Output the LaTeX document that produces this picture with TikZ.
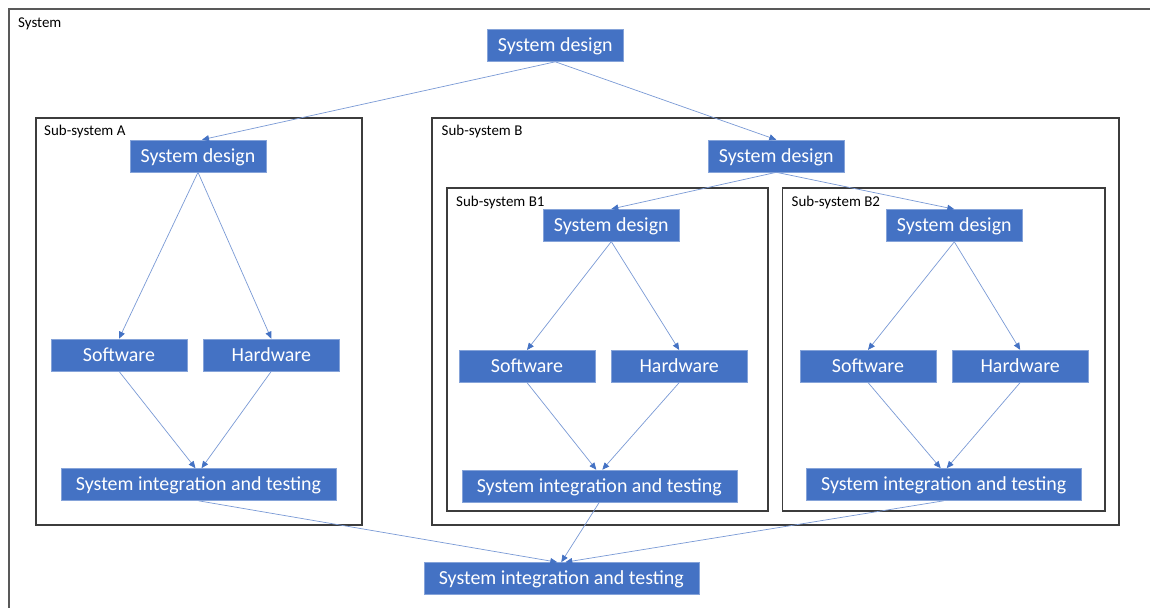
\documentclass[tikz,border=0pt]{standalone}
\usepackage{fontspec}
\setmainfont{Carlito}
\usetikzlibrary{arrows.meta}
\definecolor{boxblue}{HTML}{4472C4}
\definecolor{edgeblue}{HTML}{7A9AD6}
\definecolor{framegray}{HTML}{3C3C3C}
\tikzset{
  stage/.style={fill=boxblue, draw=boxblue!65, line width=0.6bp, text=white,
    font=\fontsize{20}{24}\selectfont, inner sep=0pt,
    minimum width=136bp, minimum height=32bp, text height=12.9bp, text depth=0pt},
  widestage/.style={stage, minimum width=275bp},
  frame/.style={draw=framegray, line width=1.1bp},
  framelabel/.style={anchor=base west, inner sep=0pt, font=\fontsize{15}{18}\selectfont},
  flow/.style={draw=edgeblue, line width=0.7bp,
    -{Triangle[length=7bp,width=6bp,fill=boxblue,color=boxblue]}}
}
\begin{document}
\begin{tikzpicture}[x=1bp,y=-1bp]
\useasboundingbox (0,0) rectangle (1150,608);
\clip (0,0) rectangle (1150,608);
\fill[white] (0,0) rectangle (1150,608);

% system frame, running past the right and bottom edges
\draw[draw=framegray!85, line width=1.3bp] (9,9) rectangle (1170,630);
\node[framelabel] (lblsys) at (18,27.5) {System};

% sub-system frames
\draw[frame] (36,118) rectangle (362,525);
\node[framelabel] (lbla) at (44,136) {Sub-system A};
\draw[frame, line width=1.3bp] (432,118) rectangle (1119,525);
\node[framelabel] (lblb) at (441.5,136) {Sub-system B};
\draw[frame] (447,188) rectangle (768,511);
\node[framelabel] (lblbone) at (456,206.5) {Sub-system B1};
\draw[frame] (782.5,188) rectangle (1105,511);
\node[framelabel] (lblbtwo) at (791.5,206.5) {Sub-system B2};

% stages
\node[stage] (topd) at (555.3,45.5) {System design};

\node[stage] (ad) at (198,156) {System design};
\node[stage] (asw) at (119,355) {Software};
\node[stage] (ahw) at (271.3,355) {Hardware};
\node[widestage] (asit) at (198.5,484.5) {System integration and testing};

\node[stage] (bd) at (776.3,156) {System design};

\node[stage] (bod) at (611.3,225.3) {System design};
\node[stage] (bosw) at (527,366.3) {Software};
\node[stage] (bohw) at (679.2,366.3) {Hardware};
\node[widestage] (bosit) at (599.3,486) {System integration and testing};

\node[stage] (btd) at (954.3,225.5) {System design};
\node[stage] (btsw) at (868,366.2) {Software};
\node[stage] (bthw) at (1020.2,366.2) {Hardware};
\node[widestage] (btsit) at (943.7,484.5) {System integration and testing};

\node[widestage] (sit) at (561.3,578.5) {System integration and testing};

% design breakdown
\draw[flow] (topd.south) -- ([xshift=4bp]ad.north);
\draw[flow] (topd.south) -- (bd.north);
\draw[flow] (ad.south) -- (asw.north);
\draw[flow] (ad.south) -- (ahw.north);
\draw[flow] (bd.south) -- (bod.north);
\draw[flow] (bd.south) -- (btd.north);
\draw[flow] (bod.south) -- (bosw.north);
\draw[flow] (bod.south) -- (bohw.north);
\draw[flow] (btd.south) -- (btsw.north);
\draw[flow] (btd.south) -- (bthw.north);

% integration
\draw[flow] (asw.south) -- ([xshift=-3bp]asit.north);
\draw[flow] (ahw.south) -- ([xshift=3bp]asit.north);
\draw[flow] (bosw.south) -- ([xshift=-3bp]bosit.north);
\draw[flow] (bohw.south) -- ([xshift=3bp]bosit.north);
\draw[flow] (btsw.south) -- ([xshift=-3bp]btsit.north);
\draw[flow] (bthw.south) -- ([xshift=3bp]btsit.north);
\draw[flow] (asit.south) -- ([xshift=-4bp]sit.north);
\draw[flow] (bosit.south) -- (sit.north);
\draw[flow] (btsit.south) -- ([xshift=4bp]sit.north);
\end{tikzpicture}
\end{document}
